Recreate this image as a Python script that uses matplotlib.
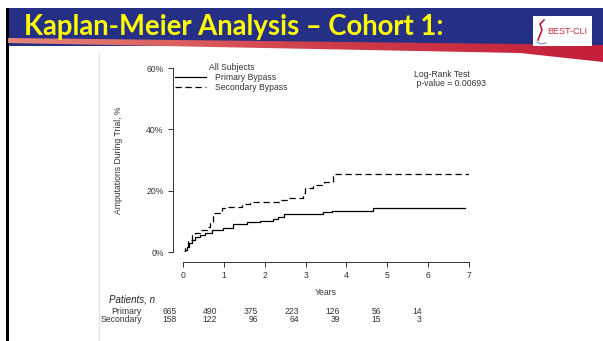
import numpy as np
import matplotlib
matplotlib.use('Agg')
import matplotlib.pyplot as plt
from matplotlib.patches import Rectangle, Polygon
import matplotlib.transforms as mtransforms

# Kaplan-Meier cumulative amputation (%)
primary_t = [0, 0.05, 0.09, 0.15, 0.21, 0.30, 0.42, 0.55, 0.70, 0.99, 1.23, 1.56,
             1.88, 2.21, 2.33, 2.46, 3.39, 3.43, 3.64, 4.64, 6.9]
primary_v = [0, 0.8, 1.7, 3.0, 3.9, 4.8, 5.5, 6.3, 7.2, 7.7, 9.1, 9.9,
             10.2, 10.7, 11.3, 12.3, 12.3, 12.9, 13.3, 14.3, 14.3]
secondary_t = [0, 0.05, 0.13, 0.21, 0.30, 0.42, 0.58, 0.66, 0.74, 0.95, 1.03, 1.44,
               1.64, 2.37, 2.58, 2.94, 2.99, 3.19, 3.44, 3.68, 7.0]
secondary_v = [0, 1.5, 3.9, 5.5, 6.3, 7.2, 8.0, 9.9, 12.6, 14.2, 14.8, 15.5,
               16.2, 17.0, 17.5, 19.1, 20.8, 21.8, 22.9, 25.4, 25.4]

years = [0, 1, 2, 3, 4, 5, 6]
at_risk_primary = [665, 490, 375, 223, 126, 56, 14]
at_risk_secondary = [158, 122, 96, 64, 39, 15, 3]

FS = 6.2
FONT = 'Liberation Sans'
GREY = '#333333'

W, H = 603, 341
fig = plt.figure(figsize=(W / 100, H / 100), dpi=100)
fig.patch.set_facecolor('white')

# slide background drawn in pixel coordinates
bg = fig.add_axes([0, 0, 1, 1])
bg.set_xlim(0, W)
bg.set_ylim(H, 0)
bg.axis('off')

bg.add_patch(Rectangle((8, 8), W - 8, 38, color='#252f86', lw=0))
bg.add_patch(Rectangle((6, 8), 2.5, H - 8, color='black', lw=0))

# red swoosh with a left-to-right gradient
swoosh = Polygon([(8, 38), (W, 45), (W, 62), (520, 53), (8, 43)], closed=True,
                 transform=bg.transData, facecolor='none', edgecolor='none')
bg.add_patch(swoosh)
grad = np.linspace(0, 1, 256).reshape(1, -1)
cmap = matplotlib.colors.LinearSegmentedColormap.from_list('sw', ['#e8877a', '#d0404a', '#c41e3a'])
im = bg.imshow(grad, extent=[8, W, 63, 36], cmap=cmap, aspect='auto', zorder=1)
im.set_clip_path(swoosh)

# chart image area
bg.add_patch(Rectangle((98, 53), 420, H - 53, color='white', lw=0, zorder=2))
bg.plot([98.5, 98.5], [53, H], color='#e4e4e4', lw=1, zorder=3)

bg.text(24, 27, 'Kaplan-Meier Analysis \u2013 Cohort 1:', color='#ffff00', fontsize=19.8,
        fontweight='bold', family='Lato', va='center', ha='left', zorder=4)

# logo
bg.add_patch(Rectangle((533, 16), 59, 30, color='white', lw=0, zorder=4))
bg.text(547, 31, 'BEST-CLI', color='#d0303c', fontsize=6.5, family=FONT,
        va='center', ha='left', zorder=5)
bg.plot([538, 542, 540, 544], [40, 30, 24, 20], color='#c02030', lw=1.2, zorder=5)
bg.plot([537, 541, 546], [42, 44, 43], color='#8090c0', lw=0.8, zorder=5)

# KM plot
x0, x7 = 183, 469
y0, y60 = 252, 68
ax = fig.add_axes([x0 / W, (H - y0) / H, (x7 - x0) / W, (y0 - y60) / H])
ax.set_facecolor('none')
ax.set_xlim(0, 7)
ax.set_ylim(0, 60)

ax.step(primary_t, primary_v, where='post', color='black', lw=0.9, label='Primary Bypass')
ax.step(secondary_t, secondary_v, where='post', color='black', lw=0.9,
        linestyle=(0, (5, 3)), label='Secondary Bypass')

for s in ['top', 'right']:
    ax.spines[s].set_visible(False)
ax.spines['left'].set_position(('outward', 7.5))
ax.spines['bottom'].set_position(('outward', 7.2))
ax.spines['left'].set_bounds(0, 60)
ax.spines['bottom'].set_bounds(0, 7)
for s in ['left', 'bottom']:
    ax.spines[s].set_linewidth(0.7)
    ax.spines[s].set_color(GREY)

ax.set_yticks([0, 20, 40, 60])
ax.set_yticklabels(['0%', '20%', '40%', '60%'])
ax.set_xticks(range(8))
ax.tick_params(labelsize=FS, length=3.5, width=0.7, color=GREY,
               labelcolor=GREY, pad=3)
for lab in ax.get_xticklabels() + ax.get_yticklabels():
    lab.set_family(FONT)

ax.set_xlabel('Years', fontsize=FS, family=FONT, color=GREY, labelpad=6)
ax.set_ylabel('Amputations During Trial, %', fontsize=FS, family=FONT,
              color=GREY, labelpad=17)

leg = ax.legend(loc='upper left', bbox_to_anchor=(-0.045, 1.055), frameon=False,
                title='All Subjects', title_fontsize=FS,
                handlelength=3.6, handletextpad=1.0, labelspacing=0.1,
                borderaxespad=0.2, prop={'family': FONT, 'size': FS})
leg.get_title().set_family(FONT)
leg.get_title().set_color(GREY)
for t in leg.get_texts():
    t.set_color(GREY)

ax.text(0.808, 0.99, 'Log-Rank Test\n p-value = 0.00693', transform=ax.transAxes,
        fontsize=FS, family=FONT, color=GREY, va='top', ha='left',
        linespacing=1.0)

# number at risk table
tr = mtransforms.blended_transform_factory(ax.transData, bg.transData)
bg.text(109, 299, 'Patients, n', fontsize=7, style='italic', family=FONT,
        color='#222222', va='center', ha='left')
bg.text(142, 312, 'Primary', fontsize=FS, family=FONT, color=GREY,
        va='center', ha='right')
bg.text(142, 319.5, 'Secondary', fontsize=FS, family=FONT, color=GREY,
        va='center', ha='right')
for yr, p, s in zip(years, at_risk_primary, at_risk_secondary):
    ax.text(yr - 0.16, 312, str(p), transform=tr, fontsize=FS, family=FONT,
            color=GREY, va='center', ha='right')
    ax.text(yr - 0.16, 319.5, str(s), transform=tr, fontsize=FS, family=FONT,
            color=GREY, va='center', ha='right')

fig.savefig('out.png', dpi=100)
